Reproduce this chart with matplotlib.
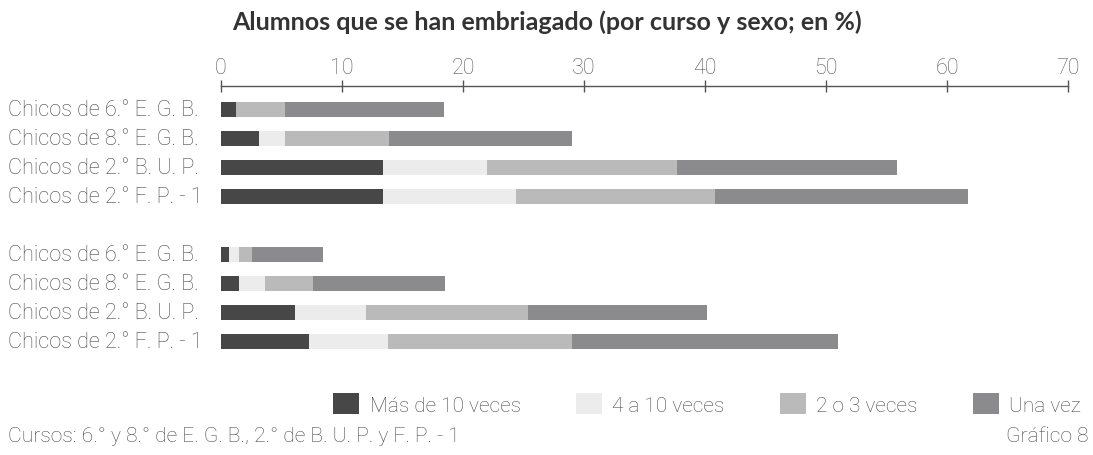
import matplotlib
matplotlib.use("Agg")
import matplotlib.pyplot as plt
from matplotlib.patches import Patch

# Course labels (top block and bottom block, as printed)
labels_top = ["Chicos de 6.° E. G. B.", "Chicos de 8.° E. G. B.",
              "Chicos de 2.° B. U. P.", "Chicos de 2.° F. P. - 1"]
labels_bottom = ["Chicos de 6.° E. G. B.", "Chicos de 8.° E. G. B.",
                 "Chicos de 2.° B. U. P.", "Chicos de 2.° F. P. - 1"]

series_names = ["Más de 10 veces", "4 a 10 veces", "2 o 3 veces", "Una vez"]

# Percent of pupils per frequency category (segment widths)
mas_de_10 = [1.2, 3.1, 13.4, 13.4, 0.7, 1.5, 6.1, 7.3]
cuatro_a_10 = [0.0, 2.2, 8.6, 11.0, 0.8, 2.1, 5.9, 6.5]
dos_o_tres = [4.1, 8.6, 15.7, 16.4, 1.1, 4.0, 13.4, 15.2]
una_vez = [13.1, 15.1, 18.2, 20.9, 5.8, 10.9, 14.8, 22.0]

x_ticks = [0, 10, 20, 30, 40, 50, 60, 70]

colors = ["#474747", "#ececec", "#bababa", "#8b8b8d"]
text_color = "#4a4a4a"
body_font = ["Roboto", "DejaVu Sans"]
body_weight = "light"

plt.rcParams["font.family"] = body_font

fig = plt.figure(figsize=(10.93, 4.56), dpi=100)
ax = fig.add_axes([221 / 1093, 1 - 360 / 456, (1068 - 221) / 1093, (360 - 87) / 456])

positions = [0, 1, 2, 3, 5, 6, 7, 8]
all_labels = labels_top + labels_bottom
series = [mas_de_10, cuatro_a_10, dos_o_tres, una_vez]

left = [0.0] * len(positions)
for vals, col in zip(series, colors):
    ax.barh(positions, vals, left=left, height=0.52, color=col, edgecolor="none")
    left = [l + v for l, v in zip(left, vals)]

ax.set_xlim(0, 70)
ax.set_ylim(8.6, -0.8)

for s in ["right", "bottom", "left"]:
    ax.spines[s].set_visible(False)
ax.spines["top"].set_color("#555555")
ax.spines["top"].set_linewidth(1.0)
ax.xaxis.set_ticks_position("top")
ax.set_xticks(x_ticks)
ax.set_xticklabels([str(t) for t in x_ticks], fontsize=15.5, fontweight=body_weight,
                   color="#5a5a5a")
ax.tick_params(axis="x", direction="inout", length=8, width=1.0,
               color="#555555", pad=2)
ax.set_yticks([])

for p, lab in zip(positions, all_labels):
    fig.text(8 / 1093, 1 - (110.3 + p * 29.0) / 456, lab, ha="left", va="center",
             fontsize=15.6, fontweight=body_weight, color=text_color)

fig.text(547 / 1093, 1 - 22 / 456, "Alumnos que se han embriagado (por curso y sexo; en %)",
         ha="center", va="center", fontsize=18, fontweight="bold", color="#333333",
         family=["Lato", "DejaVu Sans"])

handles = [Patch(facecolor=c, edgecolor="none") for c in colors]
leg = fig.legend(handles, series_names, loc="center right",
                 bbox_to_anchor=(1081 / 1093, 1 - 405 / 456), ncol=4, frameon=False,
                 handlelength=1.25, handleheight=1.15, handletextpad=0.5,
                 columnspacing=2.65, borderaxespad=0, borderpad=0,
                 prop={"size": 15, "weight": body_weight})
for t in leg.get_texts():
    t.set_color(text_color)

fig.text(8 / 1093, 1 - 437 / 456, "Cursos: 6.° y 8.° de E. G. B., 2.° de B. U. P. y F. P. - 1",
         ha="left", va="center", fontsize=15.2, fontweight=body_weight, color=text_color)
fig.text(1088 / 1093, 1 - 437 / 456, "Gráfico 8", ha="right", va="center",
         fontsize=15.2, fontweight=body_weight, color=text_color)

fig.savefig("out.png", dpi=100, facecolor="white")
